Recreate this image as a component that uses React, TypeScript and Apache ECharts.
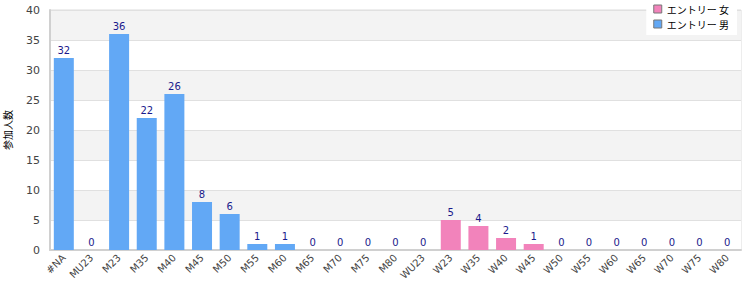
import React, { useEffect, useRef } from "react";
import * as echarts from "echarts";

const categories = [
  "#NA", "MU23", "M23", "M35", "M40", "M45", "M50", "M55", "M60", "M65", "M70", "M75", "M80",
  "WU23", "W23", "W35", "W40", "W45", "W50", "W55", "W60", "W65", "W70", "W75", "W80",
];
const menValues: (number | string)[] = [32, 0, 36, 22, 26, 8, 6, 1, 1, 0, 0, 0, 0,
  "-", "-", "-", "-", "-", "-", "-", "-", "-", "-", "-", "-"];
const womenValues: (number | string)[] = ["-", "-", "-", "-", "-", "-", "-", "-", "-", "-", "-", "-", "-",
  0, 5, 4, 2, 1, 0, 0, 0, 0, 0, 0, 0];
const womenName = "エントリー 女";
const menName = "エントリー 男";
const yAxisName = "参加人数";

export default function App() {
  const ref = useRef<HTMLDivElement>(null);
  useEffect(() => {
    if (!ref.current) return;
    const chart = echarts.init(ref.current, undefined, { renderer: "svg" });
    const label = {
      show: true,
      position: "top" as const,
      color: "#1a1a8c",
      fontSize: 10,
      fontFamily: "DejaVu Sans",
      distance: 3,
    };
    chart.setOption({
      animation: false,
      textStyle: { fontFamily: "DejaVu Sans" },
      grid: {
        left: 50, right: 9, top: 10, bottom: 50,
        containLabel: false,
        outerBoundsMode: "none",
        show: true, borderColor: "#dcdcdc", borderWidth: 1,
      },
      legend: {
        orient: "vertical",
        right: 13,
        top: 0,
        backgroundColor: "#ffffff",
        padding: [4, 8, 6, 7],
        itemGap: 5,
        itemWidth: 8,
        itemHeight: 8,
        icon: "rect",
        textStyle: { fontFamily: "Noto Sans CJK JP", fontSize: 10, color: "#000" },
        data: [
          { name: womenName, itemStyle: { borderColor: "#777", borderWidth: 1 } },
          { name: menName, itemStyle: { borderColor: "#777", borderWidth: 1 } },
        ],
      },
      xAxis: {
        type: "category",
        data: categories,
        axisLine: { lineStyle: { color: "#d0d0d0", width: 2 } },
        axisTick: { show: false },
        axisLabel: { rotate: 45, color: "#444", fontSize: 10, interval: 0, margin: 6 },
      },
      yAxis: {
        type: "value",
        min: 0,
        max: 40,
        interval: 5,
        name: yAxisName,
        nameLocation: "middle",
        nameGap: 38,
        nameRotate: 90,
        nameTextStyle: { fontFamily: "Noto Sans CJK JP", fontSize: 10, color: "#000" },
        axisLine: { show: true, lineStyle: { color: "#d0d0d0", width: 2 } },
        axisTick: { show: false },
        axisLabel: { color: "#444", fontSize: 11, margin: 10 },
        splitLine: { show: true, lineStyle: { color: "#e0e0e0" } },
        splitArea: { show: true, areaStyle: { color: ["#ffffff", "#f3f3f3"] } },
      },
      series: [
        {
          name: womenName,
          type: "bar",
          stack: "total",
          barWidth: 20,
          data: womenValues,
          itemStyle: { color: "#f283bb" },
          label,
        },
        {
          name: menName,
          type: "bar",
          stack: "total",
          barWidth: 20,
          data: menValues,
          itemStyle: { color: "#62a8f5" },
          label,
        },
      ],
    });
    return () => chart.dispose();
  }, []);
  return <div ref={ref} style={{ position: "absolute", left: 0, top: 0, width: 750, height: 300 }} />;
}
